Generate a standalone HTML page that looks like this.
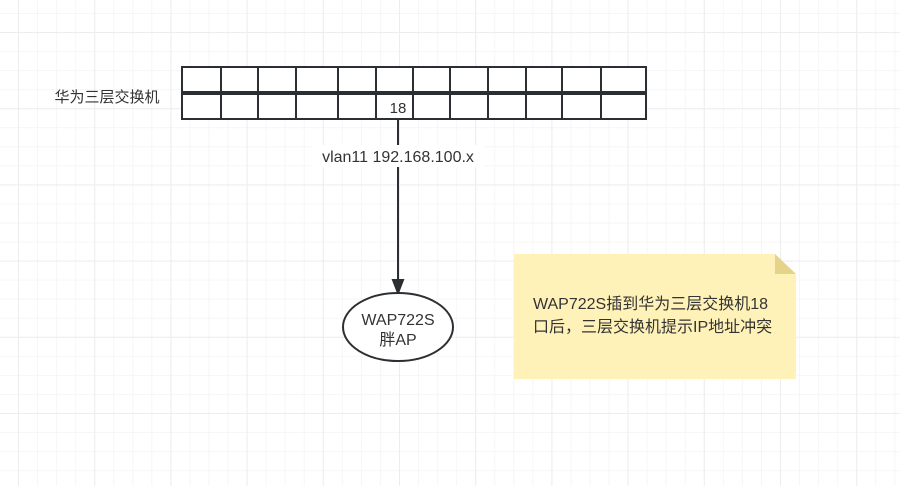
<!DOCTYPE html>
<html><head><meta charset="utf-8"><style>
html,body{margin:0;padding:0;background:#fff;}
svg{display:block;}
text{font-family:"Liberation Sans","Noto Sans CJK SC",sans-serif;fill:#333;}
</style></head><body>
<svg width="900" height="486" viewBox="0 0 900 486" xmlns="http://www.w3.org/2000/svg">
<defs>
<pattern id="minor" x="18" y="32" width="19.05" height="19.05" patternUnits="userSpaceOnUse">
<path d="M0 0.5H19.05M0.5 0V19.05" stroke="#f6f6f6" stroke-width="1" fill="none"/>
</pattern>
<pattern id="major" x="18" y="32" width="76.2" height="76.2" patternUnits="userSpaceOnUse">
<path d="M0 0.5H76.2M0.5 0V76.2" stroke="#ededed" stroke-width="1" fill="none"/>
</pattern>
</defs>
<rect width="900" height="486" fill="url(#minor)"/>
<rect width="900" height="486" fill="url(#major)"/>

<g fill="#fff" stroke="#2b2f33" stroke-width="2">
<rect x="182" y="67" width="464" height="25"/>
<rect x="182" y="94" width="464" height="25"/>
</g>
<g stroke="#2b2f33" stroke-width="2">
<path d="M221 67V92M221 94V119M258 67V92M258 94V119M296 67V92M296 94V119M338 67V92M338 94V119M376 67V92M376 94V119M413 67V92M413 94V119M450 67V92M450 94V119M488 67V92M488 94V119M526 67V92M526 94V119M562 67V92M562 94V119M601 67V92M601 94V119"/>
</g>
<text x="398" y="113" font-size="15" text-anchor="middle">18</text>
<text x="107" y="102" font-size="15" text-anchor="middle">华为三层交换机</text>

<line x1="398" y1="120" x2="398" y2="282" stroke="#2b2f33" stroke-width="2"/>
<rect x="312" y="145" width="172" height="22" fill="#fff"/>
<text x="398" y="162" font-size="16" text-anchor="middle">vlan11 192.168.100.x</text>
<path d="M393 280L398 293L403 280Z" fill="#2b2f33" stroke="#2b2f33" stroke-width="2"/>

<ellipse cx="398" cy="327" rx="55" ry="34" fill="#fff" stroke="#2b2f33" stroke-width="2"/>
<text x="398" y="325" font-size="16" text-anchor="middle">WAP722S</text>
<text x="398" y="345" font-size="16" text-anchor="middle">胖AP</text>

<path d="M514 254H775L796 274V379H514Z" fill="#fff2b8"/>
<path d="M775 254L796 274H775Z" fill="#e6d38a"/>
<text x="533" y="309" font-size="16">WAP722S插到华为三层交换机18</text>
<text x="533" y="332" font-size="16">口后，三层交换机提示IP地址冲突</text>
</svg>
</body></html>
